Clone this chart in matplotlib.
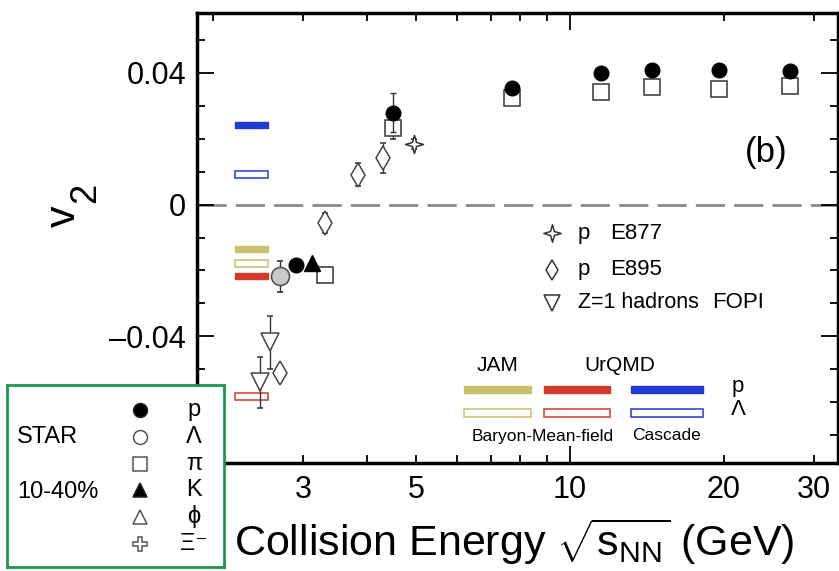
import numpy as np
import matplotlib
matplotlib.use('Agg')
import matplotlib.pyplot as plt
from matplotlib.patches import Rectangle
from matplotlib.path import Path

plt.rcParams['font.family'] = ['Liberation Sans', 'DejaVu Sans']
plt.rcParams['mathtext.fontset'] = 'custom'
plt.rcParams['mathtext.rm'] = 'Liberation Sans'
plt.rcParams['mathtext.it'] = 'Liberation Sans:italic'
plt.rcParams['mathtext.default'] = 'regular'

# STAR, 10-40% centrality
star_p_energy = [2.91, 4.5, 7.7, 11.5, 14.5, 19.6, 27.0]
star_p_v2 = [-0.0185, 0.0279, 0.0355, 0.0400, 0.0409, 0.0409, 0.0406]
star_p_err = [0.0, 0.0060, 0.0, 0.0, 0.0, 0.0, 0.0]

star_pi_energy = [3.31, 4.5, 7.7, 11.5, 14.5, 19.6, 27.0]
star_pi_v2 = [-0.0215, 0.0233, 0.0324, 0.0343, 0.0358, 0.0351, 0.0360]
star_pi_err = [0.0006, 0.0035, 0.0, 0.0, 0.0, 0.0, 0.0]

star_lambda_energy = [2.71]
star_lambda_v2 = [-0.0218]
star_lambda_err = [0.0048]

star_k_energy = [3.12]
star_k_v2 = [-0.0178]

# older fixed-target experiments
e877_energy = [4.95]
e877_v2 = [0.0185]
e877_err = [0.0015]

e895_energy = [2.71, 3.32, 3.84, 4.30]
e895_v2 = [-0.0512, -0.0055, 0.0091, 0.0142]
e895_err = [0.0020, 0.0030, 0.0035, 0.0045]

fopi_energy = [2.47, 2.58]
fopi_v2 = [-0.0540, -0.0418]
fopi_err = [0.0078, 0.0080]

# transport models at 3 GeV: JAM, UrQMD mean-field, UrQMD cascade
model_energy_range = [2.21, 2.56]
model_colors = ['#c9c06c', '#d23b2b', '#2139d6']
model_p_v2 = [-0.0136, -0.0218, 0.0242]
model_lambda_v2 = [-0.0179, -0.0582, 0.0091]

x_minor_ticks = [2, 3, 4, 5, 6, 7, 8, 9, 20, 30]
x_minor_labels = ['', '3', '', '5', '', '', '', '', '20', '30']

star4 = Path.unit_regular_star(4, 0.32)

fig = plt.figure(figsize=(8.39, 5.71), dpi=100)
ax = fig.add_axes([197 / 839, 1 - 463 / 571, 641 / 839, 450 / 571])
ax.set_xscale('log')
ax.set_xlim(1.86, 33.5)
ax.set_ylim(-0.0785, 0.0582)

ax.axhline(0, color='#8a8a8a', lw=2, ls=(0, (10.5, 3.3)), zorder=1)

# model bands
w = model_energy_range[1] - model_energy_range[0]
for c, vp, vl in zip(model_colors, model_p_v2, model_lambda_v2):
    ax.add_patch(Rectangle((model_energy_range[0], vp - 0.0009), w, 0.0018,
                           fc=c, ec=c, lw=1, zorder=2))
    ax.add_patch(Rectangle((model_energy_range[0], vl - 0.0011), w, 0.0022,
                           fc='white', ec=c, lw=1.1, zorder=2))

ebar = dict(ecolor='#333333', elinewidth=1, capsize=2.5, capthick=1, ls='none')

ax.errorbar(fopi_energy, fopi_v2, yerr=fopi_err, marker='v', ms=13.5,
            mfc='white', mec='#444444', mew=1.1, zorder=4, **ebar)
ax.errorbar(e895_energy, e895_v2, yerr=e895_err, marker='d', ms=12,
            mfc='white', mec='#444444', mew=1.1, zorder=4, **ebar)
ax.errorbar(e877_energy, e877_v2, yerr=e877_err, marker=star4, ms=13,
            mfc='white', mec='#333333', mew=1.1, zorder=4, **ebar)
ax.errorbar(star_pi_energy, star_pi_v2, yerr=star_pi_err, marker='s', ms=12,
            mfc='white', mec='#444444', mew=1.2, zorder=5, **ebar)
ax.errorbar(star_lambda_energy, star_lambda_v2, yerr=star_lambda_err, marker='o',
            ms=13, mfc='#c9c9c9', mec='#555555', mew=1.2, zorder=5, **ebar)
ax.errorbar(star_k_energy, star_k_v2, marker='^', ms=11, mfc='black',
            mec='black', zorder=6, ls='none')
ax.errorbar(star_p_energy, star_p_v2, yerr=star_p_err, marker='o', ms=10.5,
            mfc='black', mec='black', zorder=6, **ebar)

# axis styling
for s in ax.spines.values():
    s.set_linewidth(2.5)
ax.set_xticks([10], labels=['10'])
ax.set_xticks(x_minor_ticks, labels=x_minor_labels, minor=True)
ax.set_yticks([-0.04, 0, 0.04], labels=['\u20130.04', '0', '0.04'])
ax.set_yticks(np.arange(-0.07, 0.051, 0.01), minor=True)
ax.tick_params(which='both', direction='in', top=True, right=True,
               labelsize=22, width=1.3)
ax.tick_params(which='major', length=12)
ax.tick_params(which='minor', length=6)
ax.tick_params(axis='x', which='both', pad=9)
ax.tick_params(axis='y', which='both', pad=8)

ax.set_xlabel(r'Collision Energy $\sqrt{s_{NN}}$ (GeV)', fontsize=31)
ax.xaxis.set_label_coords(0.495, -0.118)
fig.text(64 / 839, 1 - 216 / 571, 'v', fontsize=31, rotation=90,
         ha='center', va='center')
fig.text(86 / 839, 1 - 193 / 571, '2', fontsize=26, rotation=90,
         ha='center', va='center')

ax.text(0.8877, 0.689, '(b)', transform=ax.transAxes, fontsize=25,
        ha='center', va='center')

# experiment key
exp_rows = [(star4, 12.5, 'p', 'E877', 0.511),
            ('d', 10, 'p', 'E895', 0.429)]
for m, ms, part, name, yy in exp_rows:
    ax.plot([0.5538], [yy], transform=ax.transAxes, marker=m, ms=ms,
            mfc='white', mec='#333333', mew=1.1, ls='none', clip_on=False)
    ax.text(0.594, yy, part, transform=ax.transAxes, fontsize=16, va='center')
    ax.text(0.644, yy, name, transform=ax.transAxes, fontsize=16, va='center')
ax.plot([0.5538], [0.3556], transform=ax.transAxes, marker='v', ms=11,
        mfc='white', mec='#333333', mew=1.1, ls='none', clip_on=False)
ax.text(0.594, 0.3556, 'Z=1 hadrons', transform=ax.transAxes, fontsize=15.5,
        va='center')
ax.text(0.803, 0.3556, 'FOPI', transform=ax.transAxes, fontsize=16,
        va='center')

# model key
key_x = [(0.4165, 0.5211), (0.5413, 0.6443), (0.6771, 0.7894)]
for (x0, x1), c in zip(key_x, model_colors):
    ax.add_patch(Rectangle((x0, 0.1644 - 0.0078), x1 - x0, 0.0156, fc=c, ec=c,
                           lw=1, transform=ax.transAxes))
    ax.add_patch(Rectangle((x0, 0.111 - 0.0089), x1 - x0, 0.0178, fc='white',
                           ec=c, lw=1.1, transform=ax.transAxes))
ax.text(0.4696, 0.2156, 'JAM', transform=ax.transAxes, fontsize=15,
        ha='center', va='center')
ax.text(0.66, 0.2156, 'UrQMD', transform=ax.transAxes, fontsize=15,
        ha='center', va='center')
ax.text(0.844, 0.171, 'p', transform=ax.transAxes, fontsize=16,
        ha='center', va='center')
ax.text(0.844, 0.118, '\u039b', transform=ax.transAxes, fontsize=16,
        ha='center', va='center')
ax.text(0.54, 0.06, 'Baryon-Mean-field', transform=ax.transAxes, fontsize=12.5,
        ha='center', va='center')
ax.text(0.733, 0.06, 'Cascade', transform=ax.transAxes, fontsize=12.5,
        ha='center', va='center')

# STAR legend box
box = fig.add_axes([7 / 839, 4 / 571, 217 / 839, 182 / 571], zorder=5)
box.set_xlim(0, 1)
box.set_ylim(0, 1)
box.set_xticks([])
box.set_yticks([])
for s in box.spines.values():
    s.set_color('#179a4d')
    s.set_linewidth(2)

star_rows = [('o', 'black', 'p'), ('o', 'white', '\u039b'), ('s', 'white', '\u03c0'),
             ('^', 'black', 'K'), ('^', 'white', '\u03d5'), ('P', 'white', '\u039e\u207b')]
row_y = [0.863, 0.714, 0.566, 0.423, 0.275, 0.126]
for (m, fc, lab), yy in zip(star_rows, row_y):
    box.plot([0.613], [yy], marker=m, ms=10, mfc=fc, mec='#222222' if fc == 'black' else '#555555',
             mew=1.1, ls='none')
    box.text(0.862, yy, lab, fontsize=17, ha='center', va='center')
box.text(0.046, 0.714, 'STAR', fontsize=17, va='center')
box.text(0.046, 0.412, '10-40%', fontsize=17, va='center')

fig.savefig('out.png', dpi=100)
